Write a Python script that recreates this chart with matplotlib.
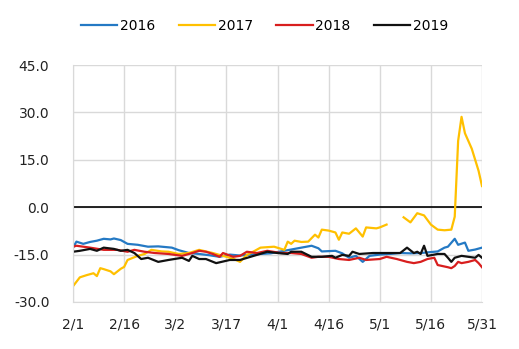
import numpy as np
import matplotlib
matplotlib.use('Agg')
import matplotlib.pyplot as plt

# days counted from 2/1
tick_days = [0, 15, 30, 45, 60, 75, 90, 105, 120]
tick_labels = ['2/1', '2/16', '3/2', '3/17', '4/1', '4/16', '5/1', '5/16', '5/31']
y_ticks = [-30, -15, 0, 15, 30, 45]

days_2016 = [0, 1, 3, 5, 7, 9, 11, 12, 14, 16, 19, 22, 25, 29, 31, 34, 37, 40, 43, 46, 49, 52,
             55, 58, 61, 64, 67, 70, 72, 73, 75, 77, 79, 81, 83, 85, 87, 90, 93, 96, 99, 102,
             105, 107, 109, 110, 112, 113, 115, 116, 118, 120]
vals_2016 = [-12.8, -10.9, -11.6, -11.0, -10.6, -10.0, -10.2, -9.9, -10.4, -11.6, -11.9, -12.5,
             -12.4, -12.8, -13.6, -14.5, -14.8, -15.2, -15.7, -15.0, -15.3, -15.0, -14.8, -14.6,
             -14.0, -13.4, -12.8, -12.2, -13.0, -14.0, -13.9, -13.8, -14.6, -16.0, -15.4, -17.3,
             -15.4, -15.0, -14.8, -14.5, -14.6, -14.5, -14.2, -14.0, -12.8, -12.5, -10.0, -11.9,
             -11.2, -13.8, -13.4, -12.8]

days_2017 = [0, 2, 4, 6, 7, 8, 9, 11, 12, 14, 15, 16, 19, 21, 23, 26, 28, 31, 34, 37, 41, 45,
             47, 49, 51, 53, 55, 59, 62, 63, 64, 65, 67, 69, 71, 72, 73, 75, 77, 78, 79, 81, 83,
             85, 86, 89, 90, 92, 94, 97, 99, 101, 103, 105, 107, 109, 111, 112, 113, 114, 115,
             117, 119, 120]
vals_2017 = [-25.0, -22.2, -21.5, -20.9, -21.8, -19.3, -19.6, -20.3, -21.2, -19.5, -18.9, -16.7,
             -15.4, -14.8, -13.5, -14.0, -14.1, -14.8, -14.5, -13.5, -14.5, -15.7, -16.3, -17.3,
             -15.1, -14.0, -12.8, -12.5, -13.5, -10.9, -11.6, -10.6, -11.0, -10.9, -8.7, -9.6,
             -7.1, -7.4, -8.0, -10.3, -8.0, -8.4, -6.7, -9.3, -6.4, -6.7, -6.4, -5.5, np.nan,
             -3.2, -4.8, -1.9, -2.6, -5.5, -7.1, -7.3, -7.1, -3.0, 21.0, 28.6, 23.4, 18.5, 11.5,
             6.7]

days_2018 = [0, 1, 5, 9, 13, 16, 18, 21, 24, 28, 32, 35, 37, 39, 41, 43, 44, 47, 49, 51, 54,
             57, 61, 64, 67, 70, 72, 75, 78, 81, 84, 86, 90, 92, 95, 98, 100, 102, 104, 106,
             107, 110, 111, 112, 113, 114, 116, 118, 119, 120]
vals_2018 = [-12.5, -12.2, -12.8, -13.5, -13.5, -14.1, -13.5, -14.1, -14.5, -14.8, -15.4, -14.5,
             -13.8, -14.1, -14.8, -15.7, -14.5, -15.7, -15.4, -14.1, -14.5, -13.8, -14.5, -14.5,
             -14.8, -16.0, -15.7, -15.7, -16.4, -16.7, -16.0, -16.7, -16.4, -15.7, -16.4, -17.3,
             -17.7, -17.3, -16.4, -16.0, -18.3, -19.0, -19.3, -18.6, -17.3, -17.7, -17.3, -16.7,
             -17.7, -19.0]

days_2019 = [0, 2, 5, 7, 9, 12, 14, 16, 18, 20, 22, 25, 28, 32, 34, 35, 37, 39, 42, 46, 49,
             53, 57, 60, 63, 64, 67, 70, 73, 76, 77, 79, 81, 82, 84, 88, 92, 96, 98, 100, 101,
             102, 103, 104, 107, 109, 110, 111, 112, 114, 116, 118, 119, 120]
vals_2019 = [-14.1, -13.8, -13.2, -13.8, -12.8, -13.2, -13.8, -13.5, -14.5, -16.4, -16.0, -17.3,
             -16.7, -16.0, -17.0, -15.4, -16.4, -16.4, -17.7, -16.7, -16.7, -15.4, -14.1, -14.5,
             -14.8, -14.1, -14.1, -15.7, -15.7, -15.4, -16.0, -15.1, -15.4, -14.1, -14.8, -14.5,
             -14.5, -14.5, -12.8, -14.5, -14.1, -14.8, -12.2, -15.4, -14.8, -14.8, -16.0, -17.3,
             -16.0, -15.4, -15.7, -16.0, -15.1, -16.0]

fig = plt.figure(figsize=(5.19, 3.49), dpi=100)
ax = fig.add_axes([0.1407, 0.1347, 0.788, 0.679])

ax.plot(days_2016, vals_2016, color='#2479C4', lw=1.6, label='2016')
ax.plot(days_2017, vals_2017, color='#FFC000', lw=1.6, label='2017')
ax.plot(days_2018, vals_2018, color='#D81E1E', lw=1.6, label='2018')
ax.plot(days_2019, vals_2019, color='#111111', lw=1.6, label='2019')
ax.axhline(0, color='black', lw=1.2, zorder=1)

ax.set_xlim(0, 120)
ax.set_ylim(-30, 45)
ax.set_xticks(tick_days)
ax.set_xticklabels(tick_labels)
ax.set_yticks(y_ticks)
ax.set_yticklabels(['%.1f' % v for v in y_ticks])
ax.grid(True, color='#D9D9D9', lw=1.0, zorder=0)
ax.set_axisbelow(True)
for s in ['top', 'right']:
    ax.spines[s].set_visible(False)
for s in ['left', 'bottom']:
    ax.spines[s].set_color('#D9D9D9')
ax.tick_params(length=0, labelsize=10, colors='#222222')
ax.tick_params(axis='y', pad=17)
ax.tick_params(axis='x', pad=11)

fig.legend(loc='center', bbox_to_anchor=(0.51, 0.925), ncol=4, frameon=False,
           fontsize=10, handlelength=2.6, columnspacing=1.7, handletextpad=0.2)

plt.savefig('out.png', dpi=100)
